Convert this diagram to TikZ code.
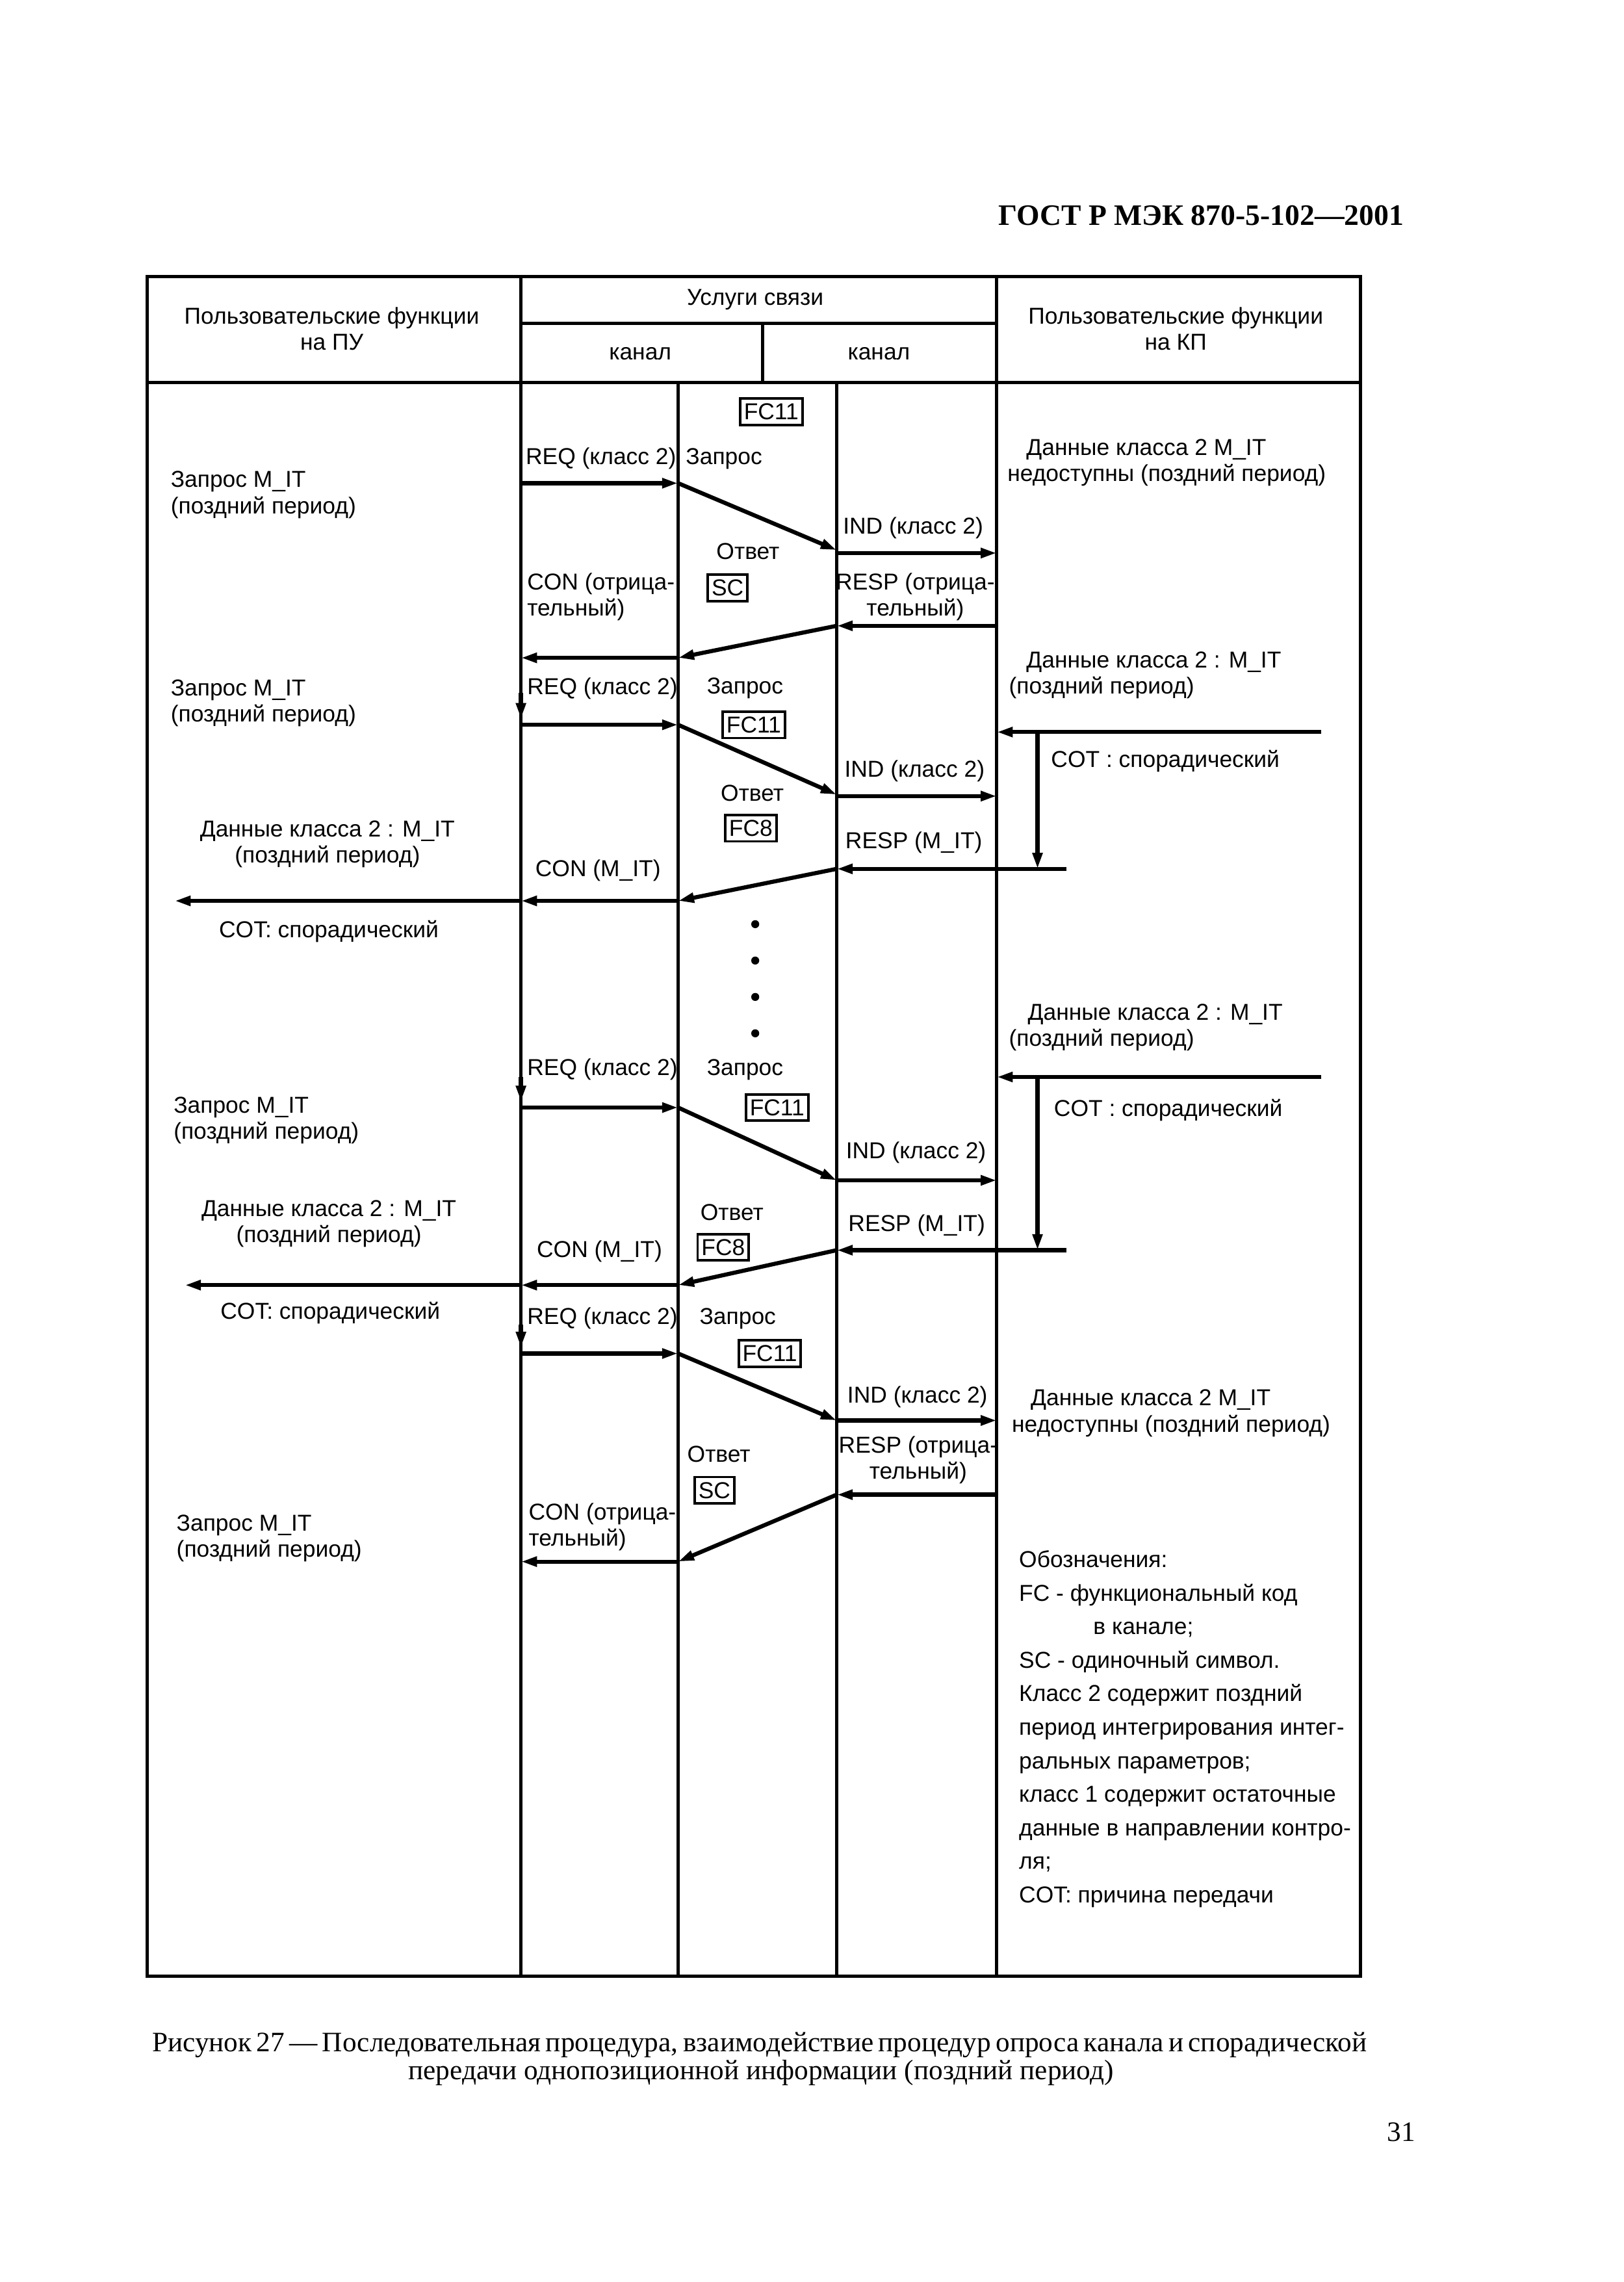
\documentclass[tikz,border=0pt]{standalone}
\usepackage{fontspec}
\setmainfont{Liberation Sans}
\newfontfamily\gostserif{Liberation Serif}
\usetikzlibrary{arrows.meta}

\begin{document}
\begin{tikzpicture}[x=0.02cm, y=-0.02cm,
    rimline/.style={line width=1.3pt},
    msgarrow/.style={line width=1.6pt, -{Triangle[length=2.2mm,width=1.3mm]}},
    txt/.style={font=\fontsize{9}{10.2}\selectfont, inner sep=0pt, align=left},
    ctxt/.style={font=\fontsize{9}{10.2}\selectfont, inner sep=0pt, align=center},
    codebox/.style={draw, line width=1pt, font=\fontsize{9}{10.2}\selectfont,
                    inner xsep=1.5pt, inner ysep=2pt},
]
\path[fill=white] (0,0) rectangle (1116,1568);

% lanes
\coordinate (pu) at (101,0);
\coordinate (ka) at (358,0);
\coordinate (kb) at (466,0);
\coordinate (kc) at (575,0);
\coordinate (kd) at (685,0);
\coordinate (kp) at (935,0);

% page head
\node[font=\gostserif\bfseries\fontsize{11.6}{13}\selectfont, anchor=east, inner sep=0pt] (gost) at (965,148) {ГОСТ Р МЭК 870-5-102—2001};

% frame and header
\draw[rimline] (pu |- 0,190) rectangle (kp |- 0,1358);
\draw[rimline] (pu |- 0,263) -- (kp |- 0,263);
\draw[rimline] (ka |- 0,222) -- (kd |- 0,222);
\draw[rimline] (524,222) -- (524,263);
\draw[rimline] (ka |- 0,190) -- (ka |- 0,1358);
\draw[rimline] (kd |- 0,190) -- (kd |- 0,1358);
\draw[rimline] (kb |- 0,263) -- (kb |- 0,1358);
\draw[rimline] (kc |- 0,263) -- (kc |- 0,1358);

\node[ctxt] (puhead) at (228,226) {Пользовательские функции\\на ПУ};
\node[ctxt] (svhead) at (519,206) {Услуги связи};
\node[ctxt] (kahead) at (440,243) {канал};
\node[ctxt] (kbhead) at (604,243) {канал};
\node[ctxt] (kphead) at (808,226) {Пользовательские функции\\на КП};

% first poll: negative answer
\node[codebox] (fc1) at (530,283) {FC11};
\node[txt, anchor=west] (req1) at (361,315) {REQ (класс 2)};
\node[txt, anchor=west] (zap1) at (471,315) {Запрос};
\node[txt, anchor=west] (pu1) at (117,340) {Запрос M\_IT\\(поздний период)};
\node[txt, anchor=west] (kp1) at (692,318) {\hspace*{0.26cm}Данные класса 2 M\_IT\\недоступны (поздний период)};
\node[txt, anchor=west] (ind1) at (579,363) {IND (класс 2)};
\node[ctxt] (otv1) at (514,379) {Ответ};
\node[codebox] (sc1) at (500,404) {SC};
\node[txt, anchor=west] (con1) at (362,410) {CON (отрица-\\тельный)};
\node[ctxt] (resp1) at (629,410) {RESP (отрица-\\тельный)};
\draw[msgarrow] (ka |- 0,332) -- (kb |- 0,332);
\draw[msgarrow] (kb |- 0,332) -- (kc |- 0,378);
\draw[msgarrow] (kc |- 0,380) -- (kd |- 0,380);
\draw[msgarrow] (kd |- 0,430) -- (kc |- 0,430);
\draw[msgarrow] (kc |- 0,430) -- (kb |- 0,452);
\draw[msgarrow] (kb |- 0,452) -- (ka |- 0,452);

% second poll: class 2 data
\node[txt, anchor=west] (kp2) at (693,464) {\hspace*{0.24cm}Данные класса 2 : M\_IT\\(поздний период)};
\node[txt, anchor=west] (pu2) at (117,483) {Запрос M\_IT\\(поздний период)};
\node[txt, anchor=west] (req2) at (362,473) {REQ (класс 2)};
\node[ctxt] (zap2) at (512,473) {Запрос};
\node[codebox] (fc2) at (518,498) {FC11};
\node[txt, anchor=west] (ind2) at (580,530) {IND (класс 2)};
\node[txt, anchor=west] (cot2) at (722,523) {COT : спорадический};
\node[ctxt] (otv2) at (517,545) {Ответ};
\node[codebox] (fc3) at (516,569) {FC8};
\node[ctxt] (resp2) at (628,579) {RESP (M\_IT)};
\node[ctxt] (con2) at (411,598) {CON (M\_IT)};
\node[ctxt] (data2) at (225,580) {Данные класса 2 : M\_IT\\(поздний период)};
\node[ctxt] (spor2) at (226,640) {COT: спорадический};
\coordinate (src2) at (908,503);
\coordinate (cot2top) at (713,503);
\coordinate (cot2end) at (733,597);
\coordinate (out2) at (120,619);
\draw[msgarrow] (ka |- 0,476) -- (ka |- 0,494);
\draw[msgarrow] (ka |- 0,498) -- (kb |- 0,498);
\draw[msgarrow] (kb |- 0,498) -- (kc |- 0,546);
\draw[msgarrow] (kc |- 0,547) -- (kd |- 0,547);
\draw[msgarrow] (src2) -- (kd |- src2);
\draw[msgarrow] (cot2top) -- (cot2top |- cot2end);
\draw[msgarrow] (cot2end) -- (kc |- cot2end);
\draw[msgarrow] (kc |- cot2end) -- (kb |- out2);
\draw[msgarrow] (kb |- out2) -- (ka |- out2);
\draw[msgarrow] (ka |- out2) -- (out2);

% repeated polls
\foreach \y in {635,660,685,710}
    \fill (519,\y) circle[radius=0.55mm];

% third poll: class 2 data
\node[txt, anchor=west] (kp3) at (693,706) {\hspace*{0.26cm}Данные класса 2 : M\_IT\\(поздний период)};
\node[txt, anchor=west] (req3) at (362,735) {REQ (класс 2)};
\node[ctxt] (zap3) at (512,735) {Запрос};
\node[codebox] (fc4) at (534,761) {FC11};
\node[txt, anchor=west] (pu3) at (119,770) {Запрос M\_IT\\(поздний период)};
\node[txt, anchor=west] (cot3) at (724,763) {COT : спорадический};
\node[txt, anchor=west] (ind3) at (581,792) {IND (класс 2)};
\node[ctxt] (otv3) at (503,833) {Ответ};
\node[codebox] (fc5) at (497,857) {FC8};
\node[ctxt] (resp3) at (630,842) {RESP (M\_IT)};
\node[ctxt] (con3) at (412,860) {CON (M\_IT)};
\node[ctxt] (data3) at (226,841) {Данные класса 2 : M\_IT\\(поздний период)};
\node[ctxt] (spor3) at (227,902) {COT: спорадический};
\coordinate (src3) at (908,740);
\coordinate (cot3top) at (713,740);
\coordinate (cot3end) at (733,859);
\coordinate (out3) at (127,883);
\draw[msgarrow] (ka |- 0,740) -- (ka |- 0,757);
\draw[msgarrow] (ka |- 0,761) -- (kb |- 0,761);
\draw[msgarrow] (kb |- 0,761) -- (kc |- 0,811);
\draw[msgarrow] (kc |- 0,811) -- (kd |- 0,811);
\draw[msgarrow] (src3) -- (kd |- src3);
\draw[msgarrow] (cot3top) -- (cot3top |- cot3end);
\draw[msgarrow] (cot3end) -- (kc |- cot3end);
\draw[msgarrow] (kc |- cot3end) -- (kb |- out3);
\draw[msgarrow] (kb |- out3) -- (ka |- out3);
\draw[msgarrow] (ka |- out3) -- (out3);

% fourth poll: negative answer
\node[txt, anchor=west] (req4) at (362,906) {REQ (класс 2)};
\node[ctxt] (zap4) at (507,906) {Запрос};
\node[codebox] (fc6) at (529,930) {FC11};
\node[txt, anchor=west] (ind4) at (582,960) {IND (класс 2)};
\node[txt, anchor=west] (kp4) at (695,971) {\hspace*{0.26cm}Данные класса 2 M\_IT\\недоступны (поздний период)};
\node[ctxt] (otv4) at (494,999) {Ответ};
\node[codebox] (sc2) at (491,1024) {SC};
\node[ctxt] (resp4) at (631,1003) {RESP (отрица-\\тельный)};
\node[txt, anchor=west] (con4) at (363,1049) {CON (отрица-\\тельный)};
\node[txt, anchor=west] (pu4) at (121,1057) {Запрос M\_IT\\(поздний период)};
\draw[msgarrow] (ka |- 0,910) -- (ka |- 0,926);
\draw[msgarrow] (ka |- 0,930) -- (kb |- 0,930);
\draw[msgarrow] (kb |- 0,930) -- (kc |- 0,976);
\draw[msgarrow] (kc |- 0,976) -- (kd |- 0,976);
\draw[msgarrow] (kd |- 0,1027) -- (kc |- 0,1027);
\draw[msgarrow] (kc |- 0,1027) -- (kb |- 0,1073);
\draw[msgarrow] (kb |- 0,1073) -- (ka |- 0,1073);

% legend
\node[txt, anchor=west, font=\fontsize{9}{13.1}\selectfont] (legend) at (700,1188) {Обозначения:\\
FC - функциональный код\\
\hspace*{1.02cm}в канале;\\
SC - одиночный символ.\\
Класс 2 содержит поздний\\
период интегрирования интег-\\
ральных параметров;\\
класс 1 содержит остаточные\\
данные в направлении контро-\\
ля;\\
COT: причина передачи};

% caption
\node[font=\gostserif\fontsize{11}{12}\selectfont, inner sep=0pt] (cap1) at (522,1405) {\makebox[16.7cm][s]{Рисунок 27 — Последовательная процедура, взаимодействие процедур опроса канала и спорадической}};
\node[font=\gostserif\fontsize{11}{12}\selectfont, inner sep=0pt] (cap2) at (523,1424) {передачи однопозиционной информации (поздний период)};
\node[font=\gostserif\fontsize{11}{12}\selectfont, inner sep=0pt] (page) at (963,1465) {31};
\end{tikzpicture}
\end{document}
